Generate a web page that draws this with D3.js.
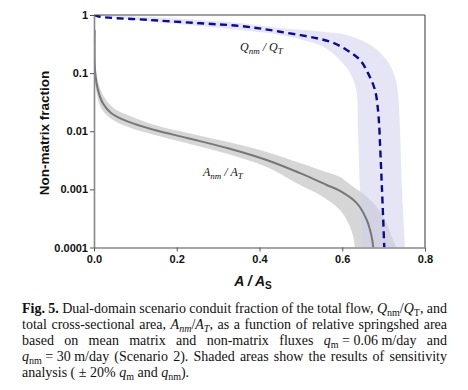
<!DOCTYPE html>
<html><head><meta charset="utf-8">
<script src="https://cdn.jsdelivr.net/npm/d3@7"></script>
<style>body{margin:0;background:#fff}svg{display:block}</style>
</head><body><svg id="c" width="468" height="390"></svg>
<script>
// ---- data ----
const xTickValues = [0, 0.2, 0.4, 0.6, 0.8];
const xTickLabels = ["0.0", "0.2", "0.4", "0.6", "0.8"];
const yTickValues = [1e-4, 1e-3, 1e-2, 1e-1, 1];
const yTickLabels = ["0.0001", "0.001", "0.01", "0.1", "1"];

// Q_nm/Q_T (mean)
const qX = [0, 0.0145, 0.1353, 0.2562, 0.3529, 0.4496, 0.5704, 0.6108, 0.6429, 0.6622, 0.6792, 0.6864, 0.6896, 0.6912, 0.6961, 0.7016];
const qY = [1, 0.935, 0.82, 0.72, 0.647, 0.516, 0.347, 0.25, 0.168, 0.1, 0.051, 0.0232, 0.0114, 0.0063, 0.00098, 0.0001];
// Q band outer / inner
const qHiX = [0, 0.1353, 0.2562, 0.3529, 0.4496, 0.5462, 0.6108, 0.6743, 0.7074, 0.7275, 0.7347, 0.7396, 0.7444, 0.7517];
const qHiY = [1, 0.924, 0.82, 0.728, 0.598, 0.52, 0.453, 0.285, 0.168, 0.0868, 0.0455, 0.0105, 0.00098, 0.0001];
const qLoX = [0, 0.1353, 0.2562, 0.3529, 0.4496, 0.5535, 0.5946, 0.6236, 0.6349, 0.6381, 0.6429, 0.6509];
const qLoY = [1, 0.773, 0.647, 0.552, 0.453, 0.285, 0.168, 0.0868, 0.0455, 0.0105, 0.00098, 0.0001];

// A_nm/A_T (mean)
const aX = [0.0017, 0.003, 0.0097, 0.0218, 0.0418, 0.0822, 0.1467, 0.2272, 0.3239, 0.4174, 0.4979, 0.5624, 0.5946, 0.635, 0.659, 0.671, 0.675];
const aY = [0.55, 0.099, 0.051, 0.030, 0.0204, 0.0146, 0.0105, 0.0076, 0.0051, 0.0032, 0.0019, 0.00119, 0.00094, 0.00058, 0.0003, 0.000155, 0.0001];
// A band outer / inner
const aHiX = [0.0017, 0.0048, 0.0145, 0.029, 0.0508, 0.087, 0.1467, 0.2272, 0.3239, 0.4174, 0.4979, 0.5462, 0.5946, 0.626, 0.655, 0.683, 0.707, 0.7227, 0.7316];
const aHiY = [0.598, 0.113, 0.0555, 0.0345, 0.0241, 0.0183, 0.0128, 0.0093, 0.0065, 0.0044, 0.00284, 0.00215, 0.00163, 0.00111, 0.0008, 0.0005, 0.000264, 0.000135, 0.0001];
const aLoX = [0.0012, 0.0024, 0.0073, 0.0169, 0.0387, 0.0822, 0.1467, 0.2272, 0.3239, 0.4174, 0.4979, 0.5462, 0.5946, 0.6187, 0.626, 0.6308];
const aLoY = [0.51, 0.076, 0.042, 0.0251, 0.0169, 0.0118, 0.0086, 0.00615, 0.00406, 0.00243, 0.00119, 0.0008, 0.00044, 0.000228, 0.000158, 0.0001];

const captionLines = [
  "#Fig. 5.# Dual-domain scenario conduit fraction of the total flow, *Q*_{nm}/*Q*_{T}, and",
  "total cross-sectional area, *A*_{*nm*}/*A*_{*T*}, as a function of relative springshed area",
  "based on mean matrix and non-matrix fluxes *q*_{m}\u00a0=\u00a00.06\u00a0m/day and",
  "*q*_{nm}\u00a0=\u00a030\u00a0m/day (Scenario 2). Shaded areas show the results of sensitivity",
  "analysis ( \u00b1 20% *q*_{m} and *q*_{nm})."
];

// ---- chart ----
const svg = d3.select("#c");
const x = d3.scaleLinear().domain([0, 0.8]).range([94, 425]);
const y = d3.scaleLog().domain([1e-4, 1]).range([247.5, 15]);

svg.append("defs").append("clipPath").attr("id", "clip")
  .append("rect").attr("x", x(0)).attr("y", y(1)).attr("width", x(0.8) - x(0)).attr("height", y(1e-4) - y(1));

const zip = (xs, ys) => xs.map((v, i) => [v, ys[i]]);
const line = d3.line().x(d => x(d[0])).y(d => y(d[1])).curve(d3.curveCatmullRom.alpha(0.5));
function bandPath(hx, hy, lx, ly) {
  const up = line(zip(hx, hy));
  const lo = line(zip(lx, ly).reverse());
  return up + "L" + lo.slice(1) + "Z";
}
const g = svg.append("g").attr("clip-path", "url(#clip)");
g.append("path").attr("d", bandPath(aHiX, aHiY, aLoX, aLoY)).attr("fill", "#c8c8c8").attr("fill-opacity", 0.75);
g.append("path").attr("d", bandPath(qHiX, qHiY, qLoX, qLoY)).attr("fill", "#cfcfef").attr("fill-opacity", 0.55);
g.append("path").attr("d", line(zip(aX, aY))).attr("fill", "none").attr("stroke", "#777").attr("stroke-width", 2);
g.append("path").attr("d", line(zip(qX, qY))).attr("fill", "none").attr("stroke", "#0a0a96").attr("stroke-width", 2.4).attr("stroke-dasharray", "7,4.5");

// frame
svg.append("line").attr("x1", x(0)).attr("x2", x(0.8)).attr("y1", y(1)).attr("y2", y(1)).attr("stroke", "#444").attr("stroke-width", 1.2);
svg.append("line").attr("x1", x(0.8)).attr("x2", x(0.8)).attr("y1", y(1)).attr("y2", y(1e-4)).attr("stroke", "#555").attr("stroke-width", 1.2);

// axes
const yAxis = svg.append("g").attr("transform", `translate(${x(0)},0)`)
  .call(d3.axisLeft(y).tickValues(yTickValues).tickFormat((d, i) => yTickLabels[i]).tickSize(4).tickSizeOuter(0));
const xAxis = svg.append("g").attr("transform", `translate(0,${y(1e-4)})`)
  .call(d3.axisBottom(x).tickValues(xTickValues).tickFormat((d, i) => xTickLabels[i]).tickSize(4).tickSizeOuter(0));
[yAxis, xAxis].forEach(a => {
  a.select(".domain").attr("stroke", "#888").attr("stroke-width", 1.6);
  a.selectAll(".tick line").attr("stroke", "#555");
  a.selectAll("text").attr("fill", "#111").style("font-family", "'Liberation Sans', Arial, sans-serif").style("font-weight", "bold").style("font-size", "11px");
});
yAxis.selectAll("text").attr("x", -6);
xAxis.selectAll("text").attr("y", 8);

svg.append("text").attr("transform", "translate(49,133) rotate(-90)").attr("text-anchor", "middle")
  .style("font-family", "'Liberation Sans', Arial, sans-serif").style("font-weight", "bold").style("font-size", "13.5px").attr("fill", "#111")
  .text("Non-matrix fraction");

const xt = svg.append("text").attr("x", 253).attr("y", 286).attr("text-anchor", "middle")
  .style("font-family", "'Liberation Sans', Arial, sans-serif").style("font-weight", "bold").style("font-style", "italic").style("font-size", "14px").attr("fill", "#111");
xt.append("tspan").text("A / A");
xt.append("tspan").attr("dy", 3).style("font-size", "10px").style("font-style", "normal").text("S");

function curveLabel(px, py, a, b) {
  const t = svg.append("text").attr("x", px).attr("y", py)
    .style("font-family", "'Liberation Serif', 'Times New Roman', serif").style("font-style", "italic").style("font-size", "12px").attr("fill", "#111");
  t.append("tspan").text(a);
  t.append("tspan").attr("dy", 2.5).style("font-size", "9px").text("nm");
  t.append("tspan").attr("dy", -2.5).text(" / " + b);
  t.append("tspan").attr("dy", 2.5).style("font-size", "9px").text("T");
}
curveLabel(240, 51, "Q", "Q");
curveLabel(203, 176, "A", "A");

// ---- caption ----
function parse(word, st) {
  const segs = []; let buf = "";
  const push = () => { if (buf) segs.push({ t: buf, i: st.it, b: st.bd, s: st.sub }); buf = ""; };
  for (let k = 0; k < word.length; k++) {
    const c = word[k];
    if (c === "*") { push(); st.it = !st.it; }
    else if (c === "#") { push(); st.bd = !st.bd; }
    else if (c === "_" && word[k + 1] === "{") { push(); st.sub = true; k++; }
    else if (c === "}" && st.sub) { push(); st.sub = false; }
    else buf += c;
  }
  push(); return segs;
}
const capX0 = 22, capX1 = 447, capY0 = 313, capDY = 16.1;
captionLines.forEach((ln, li) => {
  const words = ln.split(" ");
  const st = { it: false, bd: false, sub: false };
  const els = words.map(w => {
    const t = svg.append("text").attr("y", capY0 + li * capDY)
      .style("font-family", "'Liberation Serif', 'Times New Roman', serif").style("font-size", "14px").attr("fill", "#111");
    let cur = 0;
    parse(w, st).forEach(s => {
      const want = s.s ? 3 : 0;
      const ts = t.append("tspan").attr("dy", want - cur).text(s.t)
        .style("font-style", s.i ? "italic" : "normal").style("font-weight", s.b ? "bold" : "normal");
      if (s.s) ts.style("font-size", "10px");
      cur = want;
    });
    return t;
  });
  const widths = els.map(e => e.node().getComputedTextLength());
  const total = d3.sum(widths);
  const gap = (li < captionLines.length - 1 && els.length > 1) ? (capX1 - capX0 - total) / (els.length - 1) : 3.5;
  let cx = capX0;
  els.forEach((e, i) => { e.attr("x", cx); cx += widths[i] + gap; });
});
</script></body></html>
